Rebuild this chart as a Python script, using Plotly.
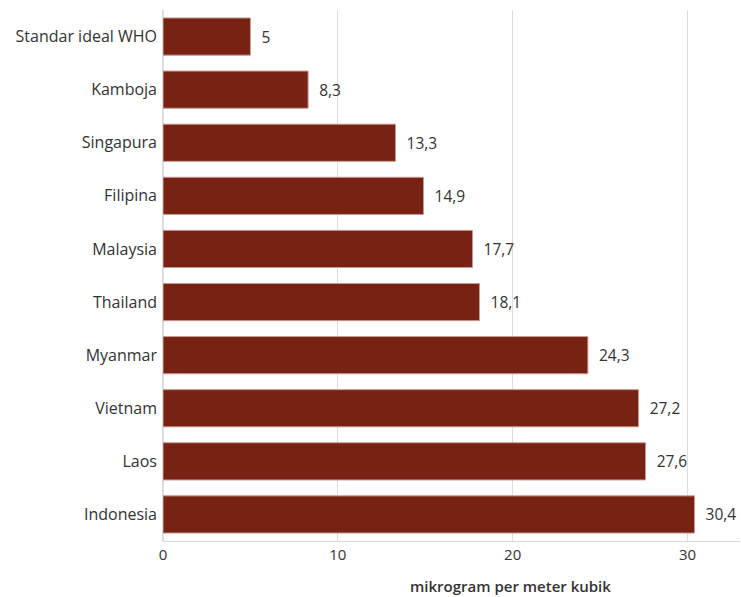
import plotly.graph_objects as go

categories = ["Standar ideal WHO", "Kamboja", "Singapura", "Filipina", "Malaysia",
              "Thailand", "Myanmar", "Vietnam", "Laos", "Indonesia"]
values = [5, 8.3, 13.3, 14.9, 17.7, 18.1, 24.3, 27.2, 27.6, 30.4]
tick_vals = [0, 10, 20, 30]
axis_title = "mikrogram per meter kubik"
labels = ["\u00a0\u00a0" + ("%g" % v).replace(".", ",") for v in values]

font_family = "Open Sans, Noto Sans, sans-serif"

fig = go.Figure(go.Bar(
    x=values, y=categories, orientation="h",
    marker=dict(color="#772213", line=dict(color="#c79a92", width=1)),
    text=labels, textposition="outside", cliponaxis=False,
    textfont=dict(family=font_family, size=15.5, color="#333333"),
))

fig.update_layout(
    width=741, height=597,
    margin=dict(l=163, r=1, t=10, b=56),
    plot_bgcolor="white", paper_bgcolor="white",
    bargap=0.3,
    showlegend=False,
    font=dict(family=font_family, size=15, color="#333333"),
)
fig.add_annotation(
    text=axis_title, xref="paper", yref="paper", x=0.603, y=0,
    xanchor="center", yanchor="middle", yshift=-45, showarrow=False,
    font=dict(family=font_family, size=15, color="#333333", weight=600),
)
fig.update_xaxes(
    range=[0, 33], tickvals=tick_vals, ticktext=[str(t) for t in tick_vals],
    showgrid=True, gridcolor="#dddddd", gridwidth=1,
    zeroline=True, zerolinecolor="#dddddd",
    showline=True, linecolor="#d9d9d9", linewidth=1,
    ticks="", tickfont=dict(size=15, color="#333333"),
)
fig.update_yaxes(
    autorange="reversed", showgrid=False, ticks="", ticklabelstandoff=5,
    tickfont=dict(size=16, color="#333333"),
)

fig.write_html("out.html")
